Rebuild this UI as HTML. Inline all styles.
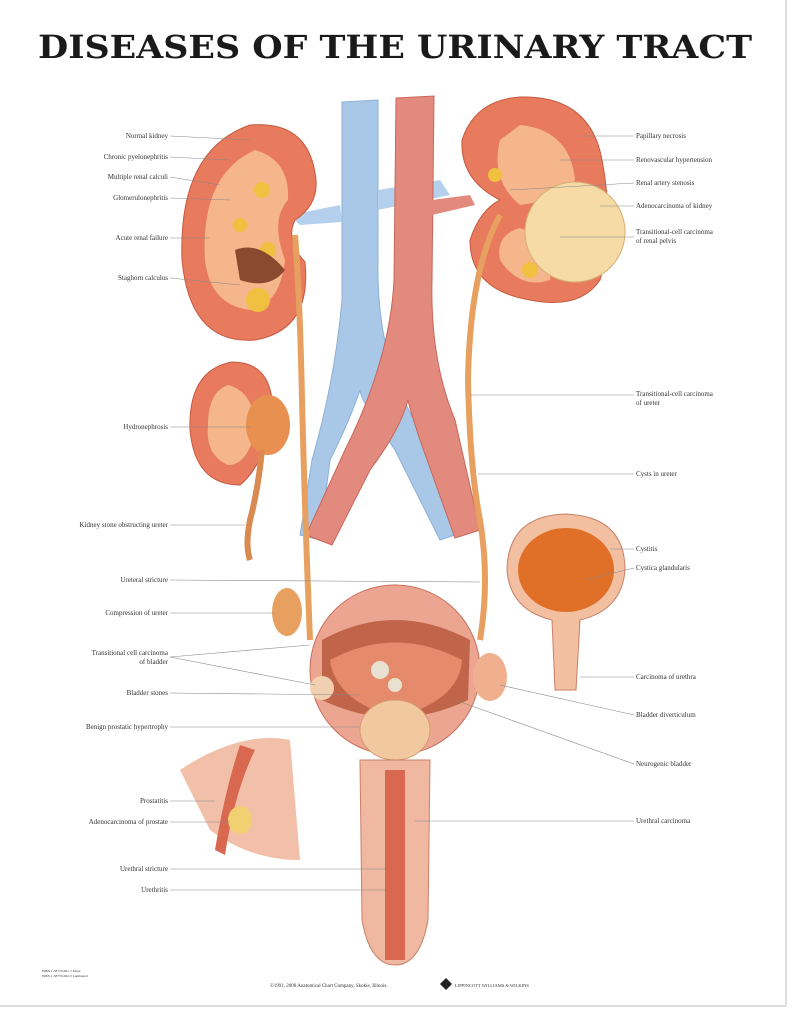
<!DOCTYPE html>
<html><head><meta charset="utf-8"><style>
html,body{margin:0;padding:0;background:#fff}
svg{display:block}
text{font-family:"Liberation Serif",serif;font-size:7px;fill:#333}
</style></head><body>
<svg width="805" height="1024" viewBox="0 0 805 1024">
<rect width="805" height="1024" fill="#fff"/>
<line x1="786" y1="0" x2="786" y2="1006" stroke="#ddd" stroke-width="2"/>
<line x1="0" y1="1006" x2="786" y2="1006" stroke="#ddd" stroke-width="2"/>
<text x="38" y="58" textLength="714" lengthAdjust="spacingAndGlyphs" style="font-family:'DejaVu Serif',serif;font-size:32px;font-weight:bold;fill:#1a1a1a">DISEASES OF THE URINARY TRACT</text>

<!-- vena cava (blue) -->
<path d="M342 102 L378 100 L378 260 Q376 360 420 430 L470 530 L440 540 L395 450 Q360 400 360 390 Q350 420 330 460 L320 540 L300 535 L312 460 Q335 380 342 300 Z" fill="#a9c8e8" stroke="#8eb0d6"/>
<path d="M340 205 L290 215 L300 225 L342 222 Z M378 190 L440 180 L450 195 L378 210 Z" fill="#b5d0ec"/>
<!-- aorta (red) -->
<path d="M396 98 L434 96 L432 280 Q430 360 455 420 L480 530 L455 538 L420 440 Q410 410 408 400 Q400 430 370 470 L332 545 L306 535 L345 450 Q390 360 394 280 Z" fill="#e38a7e" stroke="#c8665a"/>
<path d="M432 200 L470 195 L475 205 L432 215 Z" fill="#e38a7e"/>

<!-- left kidney -->
<path d="M250 125 Q310 120 316 180 Q318 205 295 220 Q285 240 305 262 Q312 330 255 340 Q190 345 182 260 Q178 150 250 125 Z" fill="#e87a5e" stroke="#c45a40"/>
<path d="M255 150 Q290 160 288 200 Q270 220 285 260 Q280 305 250 310 Q210 305 205 260 Q200 175 255 150 Z" fill="#f4b68a"/>
<circle cx="262" cy="190" r="8" fill="#f0c040"/><circle cx="240" cy="225" r="7" fill="#f0c040"/><circle cx="258" cy="300" r="12" fill="#f0c040"/><circle cx="268" cy="250" r="8" fill="#f0c040"/>
<path d="M235 250 Q260 240 285 270 Q270 290 240 280 Z" fill="#8a4a30"/>
<path d="M295 235 Q300 300 302 400 Q305 520 310 640" fill="none" stroke="#e8a060" stroke-width="6"/>

<!-- right kidney -->
<path d="M520 97 Q590 95 602 160 Q615 230 600 280 Q580 310 530 300 Q470 290 470 240 Q480 210 500 200 Q460 180 462 140 Q475 100 520 97 Z" fill="#e87a5e" stroke="#c45a40"/>
<path d="M520 125 Q570 130 575 180 Q560 200 520 205 Q490 180 500 140 Z" fill="#f4b68a"/>
<path d="M520 228 Q555 240 550 280 Q520 290 500 260 Q495 235 520 228 Z" fill="#f4b68a"/>
<circle cx="575" cy="232" r="50" fill="#f6dba6" stroke="#d8b070"/>
<circle cx="495" cy="175" r="7" fill="#f0c040"/><circle cx="530" cy="270" r="8" fill="#f0c040"/>
<path d="M500 215 Q470 270 468 380 Q470 470 480 520 Q490 580 480 640" fill="none" stroke="#e8a060" stroke-width="6"/>

<!-- hydronephrosis -->
<path d="M232 362 Q268 362 272 400 Q270 460 240 485 Q195 485 190 430 Q188 370 232 362 Z" fill="#e87a5e" stroke="#c45a40"/>
<path d="M228 385 Q255 392 255 430 Q248 465 228 465 Q205 455 208 425 Q208 392 228 385 Z" fill="#f4b68a"/>
<ellipse cx="268" cy="425" rx="22" ry="30" fill="#e89050"/>
<path d="M262 450 Q258 490 250 520 Q245 545 250 560" fill="none" stroke="#d88a50" stroke-width="6"/>

<!-- bladder -->
<circle cx="395" cy="670" r="85" fill="#eba590" stroke="#c8705c"/>
<path d="M322 640 Q395 600 470 640 L468 700 Q395 735 322 700 Z" fill="#c0654a"/>
<path d="M330 660 Q395 625 462 660 Q460 700 395 718 Q335 700 330 660 Z" fill="#e58a6a"/>
<circle cx="380" cy="670" r="9" fill="#e8e0d0"/><circle cx="395" cy="685" r="7" fill="#e8e0d0"/>
<circle cx="322" cy="688" r="12" fill="#f0d0b0"/>
<ellipse cx="287" cy="612" rx="15" ry="24" fill="#e8a060"/>
<ellipse cx="490" cy="677" rx="17" ry="24" fill="#f0b090"/>
<ellipse cx="395" cy="730" rx="35" ry="30" fill="#f2c8a0" stroke="#d89a70"/>
<!-- penis / urethra -->
<path d="M360 760 L430 760 L428 920 Q420 965 395 965 Q370 965 362 920 Z" fill="#f0b8a0" stroke="#c88068"/>
<path d="M385 770 L405 770 L405 960 L385 960 Z" fill="#d86850"/>
<!-- cystitis bladder -->
<path d="M565 514 Q625 516 625 570 Q622 610 580 620 L576 690 L555 690 L552 620 Q510 610 507 570 Q508 516 565 514 Z" fill="#f2c0a0" stroke="#c88068"/>
<ellipse cx="566" cy="570" rx="48" ry="42" fill="#e07028"/>
<!-- prostate inset -->
<path d="M180 770 Q240 730 290 740 L300 860 Q250 860 210 830 Q190 790 180 770 Z" fill="#f2c0a8"/>
<path d="M240 745 Q225 790 215 850 L225 855 Q235 790 255 750 Z" fill="#d86850"/>
<ellipse cx="240" cy="820" rx="12" ry="14" fill="#f0d070"/>

<g stroke="#888" stroke-width="0.6">
<line x1="170" y1="136" x2="250" y2="140"/><line x1="170" y1="157" x2="230" y2="160"/><line x1="170" y1="177" x2="220" y2="185"/><line x1="170" y1="198" x2="230" y2="200"/><line x1="170" y1="238" x2="210" y2="238"/><line x1="170" y1="278" x2="240" y2="285"/>
<line x1="170" y1="427" x2="250" y2="427"/><line x1="170" y1="525" x2="245" y2="525"/><line x1="170" y1="580" x2="480" y2="582"/><line x1="170" y1="613" x2="275" y2="613"/>
<line x1="170" y1="657" x2="310" y2="645"/><line x1="170" y1="657" x2="315" y2="685"/><line x1="170" y1="693" x2="360" y2="695"/><line x1="170" y1="727" x2="360" y2="727"/>
<line x1="170" y1="801" x2="215" y2="801"/><line x1="170" y1="822" x2="230" y2="822"/><line x1="170" y1="869" x2="385" y2="869"/><line x1="170" y1="890" x2="385" y2="890"/>
<line x1="580" y1="136" x2="634" y2="136"/><line x1="560" y1="160" x2="634" y2="160"/><line x1="510" y1="190" x2="634" y2="183"/><line x1="600" y1="206" x2="634" y2="206"/><line x1="560" y1="237" x2="634" y2="237"/>
<line x1="470" y1="395" x2="634" y2="395"/><line x1="478" y1="474" x2="634" y2="474"/><line x1="610" y1="549" x2="634" y2="549"/><line x1="585" y1="580" x2="634" y2="568"/>
<line x1="580" y1="677" x2="634" y2="677"/><line x1="500" y1="685" x2="634" y2="715"/><line x1="455" y1="700" x2="634" y2="764"/><line x1="415" y1="821" x2="634" y2="821"/>
</g>
<g text-anchor="end">
<text x="168" y="138">Normal kidney</text><text x="168" y="159">Chronic pyelonephritis</text><text x="168" y="179">Multiple renal calculi</text><text x="168" y="200">Glomerulonephritis</text><text x="168" y="240">Acute renal failure</text><text x="168" y="280">Staghorn calculus</text>
<text x="168" y="429">Hydronephrosis</text><text x="168" y="527">Kidney stone obstructing ureter</text><text x="168" y="582">Ureteral stricture</text><text x="168" y="615">Compression of ureter</text>
<text x="168" y="655">Transitional cell carcinoma</text><text x="168" y="664">of bladder</text><text x="168" y="695">Bladder stones</text><text x="168" y="729">Benign prostatic hypertrophy</text>
<text x="168" y="803">Prostatitis</text><text x="168" y="824">Adenocarcinoma of prostate</text><text x="168" y="871">Urethral stricture</text><text x="168" y="892">Urethritis</text>
</g>
<g>
<text x="636" y="138">Papillary necrosis</text><text x="636" y="162">Renovascular hypertension</text><text x="636" y="185">Renal artery stenosis</text><text x="636" y="208">Adenocarcinoma of kidney</text>
<text x="636" y="234">Transitional-cell carcinoma</text><text x="636" y="243">of renal pelvis</text>
<text x="636" y="396">Transitional-cell carcinoma</text><text x="636" y="405">of ureter</text><text x="636" y="476">Cysts in ureter</text>
<text x="636" y="551">Cystitis</text><text x="636" y="570">Cystica glandularis</text><text x="636" y="679">Carcinoma of urethra</text><text x="636" y="717">Bladder diverticulum</text><text x="636" y="766">Neurogenic bladder</text><text x="636" y="823">Urethral carcinoma</text>
</g>
<text x="270" y="987" style="font-size:5px">©1991, 2000 Anatomical Chart Company, Skokie, Illinois.</text>
<path d="M440 984 L446 978 L452 984 L446 990 Z" fill="#222"/>
<text x="455" y="987" style="font-size:4.5px">LIPPINCOTT WILLIAMS &amp; WILKINS</text>
<text x="42" y="972" style="font-size:3.5px">ISBN 1-58779-061-7 Paper</text>
<text x="42" y="977" style="font-size:3.5px">ISBN 1-58779-062-5 Laminated</text>
</svg>
</body></html>
